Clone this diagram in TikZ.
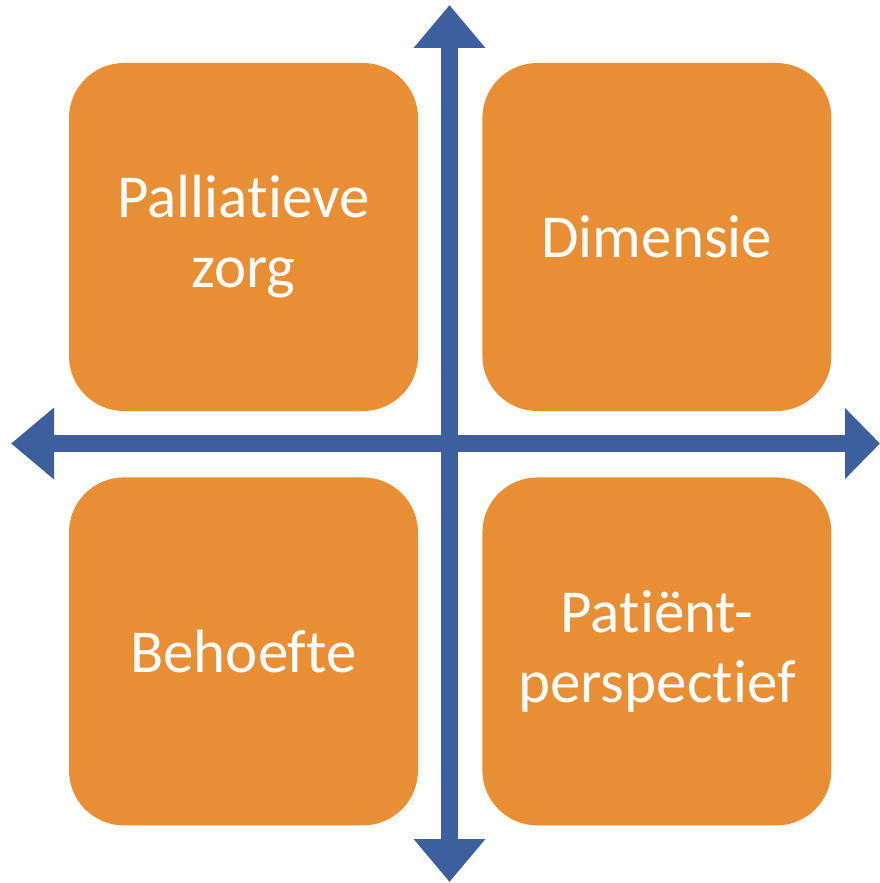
\documentclass[tikz,border=0pt]{standalone}
\usepackage{fontspec}
\setmainfont{Carlito}[Ligatures={NoCommon,NoRare,NoContextual}]
\usepackage{xcolor}
\usepackage{tikz}
\usetikzlibrary{arrows.meta, positioning}

\definecolor{quadorange}{HTML}{E88E35}
\definecolor{axisblue}{HTML}{3D5F9D}
% keeps t and i apart (Carlito joins them)
\newcommand{\tisplit}{\kern0pt\relax}

\begin{document}
\begin{tikzpicture}[
  x=1pt, y=-1pt,
  node distance=66pt and 64pt,
  quad/.style={rectangle, rounded corners=55pt, fill=quadorange, text=white,
    minimum width=349pt, minimum height=348pt, align=center,
    font=\fontsize{61}{70}\selectfont},
  axis/.style={{Triangle[length=43pt, width=69pt]}-{Triangle[length=43pt, width=69pt]},
    line width=17pt, draw=axisblue}
]
  \useasboundingbox (0,0) rectangle (879,883);

  \node[quad] (zorg) at (243.5,237) {Pallia\tisplit t\tisplit ieve\\zorg};
  \node[quad, right=of zorg] (dim) {Dimensie};
  \node[quad, below=of zorg] (beh) {Behoefte};
  \node[quad, below=of dim] (pat) {Pat\tisplit iënt-\\perspect\tisplit ief};

  \coordinate (top) at (449.5,5);
  \coordinate (bot) at (449.5,882);
  \coordinate (lft) at (11,443.5);
  \coordinate (rgt) at (880,443.5);

  \draw[axis] (top) -- (bot);
  \draw[axis, {Triangle[length=43pt, width=69pt]}-{Triangle[length=35pt, width=69pt]}] (lft) -- (rgt);
\end{tikzpicture}
\end{document}
